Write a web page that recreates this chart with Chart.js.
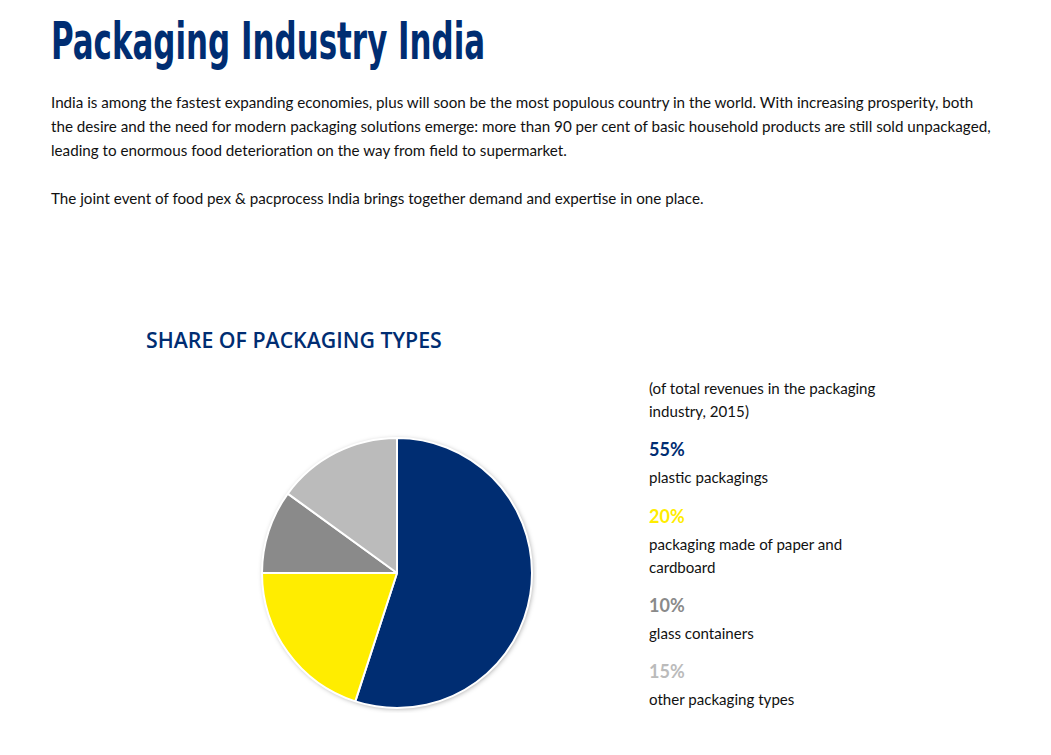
<!DOCTYPE html>
<html>
<head>
<meta charset="utf-8">
<script src="https://cdn.jsdelivr.net/npm/chart.js@4.4.0/dist/chart.umd.min.js"></script>
<style>
  body { margin: 0; background: #fff; width: 1051px; height: 755px; position: relative; overflow: hidden; font-family: "Lato", sans-serif; color: #111; }
  h1 { position: absolute; left: 51px; top: 12px; margin: 0; font-family: "DejaVu Sans", sans-serif; font-stretch: condensed; font-weight: bold; font-size: 51px; color: #002d72; transform-origin: 0 0; transform: scaleX(0.76); white-space: nowrap; }
  .intro { position: absolute; left: 51px; top: 90px; margin: 0; font-size: 15.2px; line-height: 24px; white-space: nowrap; }
  .intro2 { top: 186px; }
  h2 { position: absolute; left: 146px; top: 325px; margin: 0; font-family: "Open Sans", sans-serif; font-weight: 600; font-size: 21.3px; color: #002d72; }
  #pieBox { position: absolute; left: 257px; top: 433px; width: 280px; height: 280px; }
  .side { position: absolute; left: 649px; font-size: 15.1px; line-height: 23px; }
  .pct { position: absolute; left: 649px; font-size: 18px; font-weight: bold; }
</style>
</head>
<body>
<h1 id="title">Packaging Industry India</h1>
<p class="intro">India is among the fastest expanding economies, plus will soon be the most populous country in the world. With increasing prosperity, both<br>the desire and the need for modern packaging solutions emerge: more than 90 per cent of basic household products are still sold unpackaged,<br>leading to enormous food deterioration on the way from field to supermarket.</p>
<p class="intro intro2">The joint event of food pex &amp; pacprocess India brings together demand and expertise in one place.</p>
<h2>SHARE OF PACKAGING TYPES</h2>
<div id="pieBox"><canvas id="pieChart"></canvas></div>
<div class="side" style="top:377px">(of total revenues in the packaging<br>industry, 2015)</div>
<div id="legendArea"></div>
<script>
// 数据
const categories = ['plastic packagings', 'packaging made of paper and cardboard', 'glass containers', 'other packaging types'];
const shares = [55, 20, 10, 15];
const legendLabels = ['plastic packagings', 'packaging made of paper and<br>cardboard', 'glass containers', 'other packaging types'];
const sliceColors = ['#002d72', '#ffed00', '#8a8a8a', '#bbbbbb'];

// 标题宽度压到参考图的 434px
const title = document.getElementById('title');
title.style.transform = 'scaleX(' + (434 / title.offsetWidth).toFixed(3) + ')';

// 右侧说明文字
const legendTops = [438, 505, 594, 660];
const legendArea = document.getElementById('legendArea');
shares.forEach((v, i) => {
    const pct = document.createElement('div');
    pct.className = 'pct';
    pct.style.top = legendTops[i] + 'px';
    pct.style.color = sliceColors[i];
    pct.textContent = v + '%';
    legendArea.appendChild(pct);
    const txt = document.createElement('div');
    txt.className = 'side';
    txt.style.top = (legendTops[i] + 28) + 'px';
    txt.innerHTML = legendLabels[i];
    legendArea.appendChild(txt);
});

// 饼图阴影
const pieShadow = {
    id: 'pieShadow',
    beforeDatasetsDraw(chart) {
        const arc = chart.getDatasetMeta(0).data[0];
        if (!arc) return;
        const ctx = chart.ctx;
        ctx.save();
        ctx.shadowColor = 'rgba(0,0,0,0.35)';
        ctx.shadowBlur = 5;
        ctx.shadowOffsetX = 1;
        ctx.shadowOffsetY = 1;
        ctx.fillStyle = '#ffffff';
        ctx.beginPath();
        ctx.arc(arc.x, arc.y, arc.outerRadius, 0, Math.PI * 2);
        ctx.fill();
        ctx.restore();
    }
};

new Chart(document.getElementById('pieChart'), {
    type: 'pie',
    data: {
        labels: categories,
        datasets: [{
            data: shares,
            backgroundColor: sliceColors,
            borderColor: '#ffffff',
            borderWidth: 2
        }]
    },
    options: {
        responsive: true,
        maintainAspectRatio: false,
        animation: false,
        layout: { padding: 4 },
        plugins: {
            legend: { display: false },
            tooltip: { enabled: false }
        }
    },
    plugins: [pieShadow]
});
</script>
</body>
</html>
